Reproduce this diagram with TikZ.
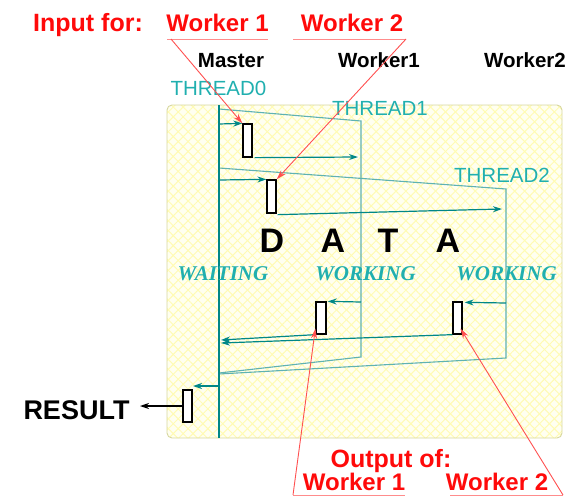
\documentclass[tikz,border=0pt]{standalone}
\usepackage{fontspec}
\setmainfont{Liberation Sans}
\newfontfamily\serifit{Liberation Serif}
\usetikzlibrary{arrows.meta,patterns.meta}
\definecolor{tealtext}{RGB}{32,175,175}
\definecolor{tealline}{RGB}{0,135,135}
\definecolor{teallight}{RGB}{95,178,178}
\definecolor{redtext}{RGB}{255,10,10}
\definecolor{redline}{RGB}{255,80,80}
\definecolor{redul}{RGB}{255,140,140}
\definecolor{bgyellow}{RGB}{255,255,240}
\definecolor{hatchcol}{RGB}{255,251,180}
\definecolor{frame}{RGB}{215,215,160}
\tikzset{
  lbl/.style={anchor=base,inner sep=0pt,outer sep=0pt},
  redlbl/.style={lbl,text=redtext,font=\fontsize{24}{28}\selectfont\bfseries},
  blacklbl/.style={lbl,text=black,font=\fontsize{20.5}{24}\selectfont\bfseries},
  threadlbl/.style={lbl,text=tealtext,font=\fontsize{20.5}{24}\selectfont},
  statelbl/.style={lbl,text=tealtext,font=\fontsize{21}{24}\selectfont\serifit\bfseries\itshape},
  datalbl/.style={lbl,text=black,font=\fontsize{34}{38}\selectfont\bfseries},
  buf/.style={draw=black,line width=1.3pt,fill=white,inner sep=0pt,minimum width=9pt,minimum height=33pt},
  tarrow/.style={draw=tealline,line width=1.2pt,-{Stealth[length=9pt,width=6pt]}},
  tline/.style={draw=teallight,line width=1.1pt},
  rarrow/.style={draw=redline,line width=0.9pt,-{Stealth[length=10pt,width=6pt]}},
  rul/.style={draw=redul,line width=1pt},
}
\begin{document}
\begin{tikzpicture}[x=1pt,y=-1pt]
\useasboundingbox (0,0) rectangle (571,498);
% background panel
\path[fill=bgyellow,rounded corners=5pt] (167,105) rectangle (562,438);
\path[pattern={Lines[angle=45,distance=7pt,line width=1pt]},pattern color=hatchcol,rounded corners=5pt] (167,105) rectangle (562,438);
\path[pattern={Lines[angle=-45,distance=7pt,line width=1pt]},pattern color=hatchcol,rounded corners=5pt] (167,105) rectangle (562,438);
\draw[draw=frame,line width=0.9pt,rounded corners=5pt] (167,105) rectangle (562,438);

% coordinates
\coordinate (mtop) at (219,105);
\coordinate (mbot) at (219,438);
\coordinate (t1a) at (219,109);
\coordinate (t1b) at (361,121);
\coordinate (t1c) at (361,357);
\coordinate (t1d) at (219,373);
\coordinate (t2a) at (219,168);
\coordinate (t2b) at (506,189);
\coordinate (t2c) at (506,358);
\coordinate (t2d) at (219,374);
\coordinate (m1) at (219,124);
\coordinate (m2) at (219,180);
\coordinate (m3) at (221,340);
\coordinate (m4) at (221,343);
\coordinate (m5) at (219,386);
\coordinate (w1in) at (358,157);
\coordinate (w2in) at (502,209);
\coordinate (w1out) at (361,302);
\coordinate (w2out) at (506,303);
\coordinate (m5tip) at (193,386);
\coordinate (restip) at (140,406);

% thread outlines
\draw[tline] (t1a) -- (t1b) -- (t1c) -- (t1d);
\draw[tline] (t2a) -- (t2b) -- (t2c) -- (t2d);
% master line
\draw[draw=tealline,line width=1.6pt] (mtop) -- (mbot);

% buffers
\node[buf] (b1) at (247.5,140.5) {};
\node[buf] (b2) at (271.5,196.5) {};
\node[buf,minimum height=32pt,minimum width=10pt] (b3) at (321,318) {};
\node[buf,minimum height=32pt] (b4) at (457.5,318) {};
\node[buf,minimum height=32pt] (b5) at (187.5,406) {};

% teal arrows
\draw[tarrow] (m1) -- (b1.north west);
\draw[tarrow] ([xshift=2pt]b1.south east) -- (w1in);
\draw[tarrow] (m2) -- (b2.north west);
\draw[tarrow] ([xshift=1pt,yshift=-1pt]b2.south east) -- (w2in);
\draw[tarrow] (w1out) -- ([xshift=1pt]b3.north east);
\draw[tarrow] (w2out) -- ([xshift=2pt,yshift=-1pt]b4.north east);
\draw[tarrow] (b3.south west) -- (m3);
\draw[tarrow] (b4.south west) -- (m4);
\draw[tarrow] (m5) -- (m5tip);
\draw[draw=black,line width=1.2pt,-{Stealth[length=9pt,width=6pt]}] (b5.west) -- (restip);

% labels
\node[redlbl,font=\fontsize{25}{28}\selectfont\bfseries] (inputfor) at (88,31) {Input for:};
\node[redlbl] (inw1) at (217.5,31) {Worker 1};
\node[redlbl] (inw2) at (352,31) {Worker 2};
\node[blacklbl] (master) at (231,67) {Master};
\node[blacklbl] (worker1) at (379,67) {Worker1};
\node[blacklbl] (worker2) at (525,67) {Worker2};
\node[threadlbl] (th0) at (218.5,95) {THREAD0};
\node[threadlbl] (th1) at (380,115) {THREAD1};
\node[threadlbl] (th2) at (502,182) {THREAD2};
\node[datalbl] (dD) at (272,252) {D};
\node[datalbl] (dA) at (333,252) {A};
\node[datalbl] (dT) at (388,252) {T};
\node[datalbl] (dAA) at (448,252) {A};
\node[statelbl] (waiting) at (223,280) {WAITING};
\node[statelbl] (working1) at (365.5,280) {WORKING};
\node[statelbl] (working2) at (506.5,280) {WORKING};
\node[lbl,text=black,font=\fontsize{27}{30}\selectfont\bfseries] (result) at (76.5,419) {RESULT};
\node[redlbl,font=\fontsize{25}{28}\selectfont\bfseries] (outputof) at (391,467) {Output of:};
\node[redlbl] (outw1) at (354,490) {Worker 1};
\node[redlbl] (outw2) at (497,490) {Worker 2};

% red underlines and pointers
\coordinate (iu1a) at (167,39); \coordinate (iu1b) at (268,39);
\coordinate (iu2a) at (293,39); \coordinate (iu2b) at (406,39);
\coordinate (ou1a) at (293,495); \coordinate (ou1b) at (405,495);
\coordinate (ou2a) at (450,495); \coordinate (ou2b) at (563,495);
\draw[rul] (iu1a) -- (iu1b);
\draw[rul] (iu2a) -- (iu2b);
\draw[rul] (ou1a) -- (ou1b);
\draw[rul] (ou2a) -- (ou2b);
\draw[rarrow] ([xshift=4pt]iu1a) -- (b1.north west);
\draw[rarrow] (iu2b) -- (b2.north east);
\draw[rarrow] (ou1a) -- ([yshift=6pt]b3.south west);
\draw[rarrow] (ou2b) -- ([xshift=3pt,yshift=6pt]b4.south);
\end{tikzpicture}
\end{document}
